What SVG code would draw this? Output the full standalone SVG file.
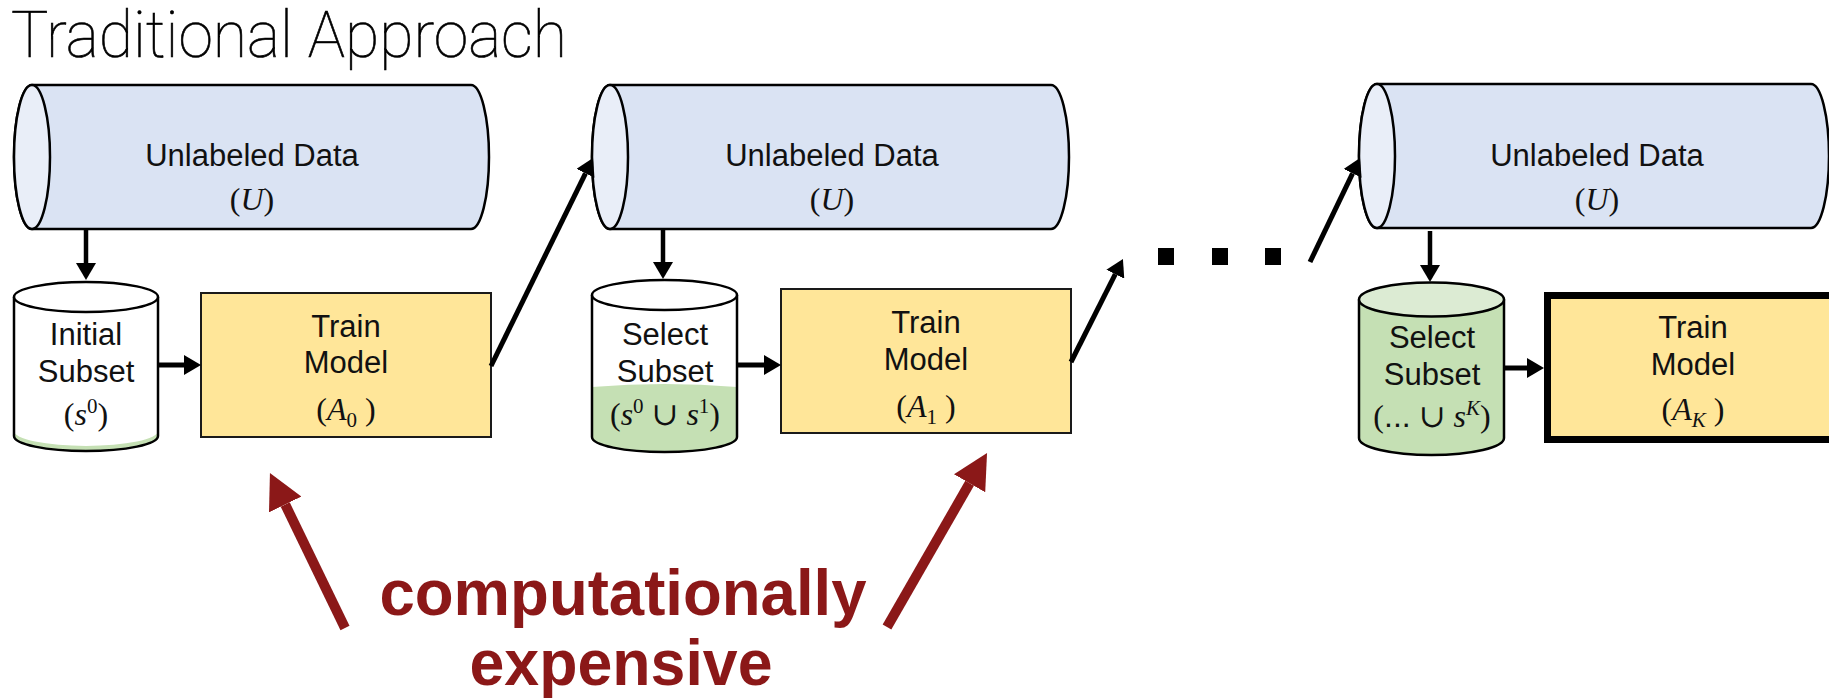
<svg xmlns="http://www.w3.org/2000/svg" width="1829" height="700" viewBox="0 0 1829 700">
  <style>
    .bg { fill: #ffffff; }
    .title { font-family: "Roboto", "Liberation Sans", sans-serif; font-weight: 100; font-size: 64px; fill: #000000; stroke: #000000; stroke-width: 0.6; }
    .lbl { font-family: "Liberation Sans", Arial, sans-serif; font-size: 31px; fill: #111111; text-anchor: middle; }
    .math { font-family: "Liberation Serif", "DejaVu Serif", serif; font-size: 32px; fill: #111111; text-anchor: middle; }
    .it { font-style: italic; }
    .drum { fill: #dae3f3; stroke: #000000; stroke-width: 2.5; }
    .drum-face { fill: #e9eef8; stroke: #000000; stroke-width: 2.5; }
    .can-body { fill: #ffffff; stroke: none; }
    .can-outline { fill: none; stroke: #000000; stroke-width: 2.5; }
    .can-top { fill: #ffffff; stroke: #000000; stroke-width: 2.5; }
    .green { fill: #c5e0b4; stroke: none; }
    .green-top { fill: #dcebd3; stroke: #000000; stroke-width: 2.5; }
    .box { fill: #ffe699; stroke: #1a1a1a; stroke-width: 2; }
    .box-bold { fill: #ffe699; stroke: #000000; stroke-width: 7; }
    .link { stroke: #000000; stroke-width: 5; fill: none; }
    .link-thin { stroke: #000000; stroke-width: 4.5; fill: none; }
    .hot { stroke: #8b1818; stroke-width: 10; fill: none; }
    .hot-text { font-family: "Liberation Sans", Arial, sans-serif; font-weight: bold; font-size: 65px; fill: #8b1818; text-anchor: middle; }
    .dot { fill: #000000; }
  </style>
  <defs>
    <marker id="head" markerUnits="userSpaceOnUse" viewBox="0 0 17 20" markerWidth="17" markerHeight="20" refX="0" refY="10" orient="auto">
      <path d="M0,0 L17,10 L0,20 Z" fill="#000000"/>
    </marker>
    <marker id="head-red" markerUnits="userSpaceOnUse" viewBox="0 0 35 36" markerWidth="35" markerHeight="36" refX="0" refY="18" orient="auto">
      <path d="M0,0 L35,18 L0,36 Z" fill="#8b1818"/>
    </marker>
  </defs>

  <rect class="bg" x="0" y="0" width="1829" height="700"/>

  <text class="title" x="11" y="57" textLength="556" lengthAdjust="spacingAndGlyphs">Traditional Approach</text>

  <!-- pool of unlabeled data, round 0 -->
  <g id="pool-0">
    <path class="drum" d="M32,85 H471 A18 72 0 0 1 471,229 H32 A18 72 0 0 1 32,85 Z"/>
    <ellipse class="drum-face" cx="32" cy="157" rx="18" ry="72"/>
    <text class="lbl" x="252" y="166">Unlabeled Data</text>
    <text class="math" x="252" y="210">(<tspan class="it">U</tspan>)</text>
  </g>

  <!-- initial subset store -->
  <g id="subset-0">
    <path class="can-body" d="M14,297 V436 A72 15 0 0 0 158,436 V297 Z"/>
    <path class="green" d="M14,431 A72 15 0 0 0 158,431 V436 A72 15 0 0 1 14,436 Z"/>
    <path class="can-outline" d="M14,297 V436 A72 15 0 0 0 158,436 V297"/>
    <ellipse class="can-top" cx="86" cy="297" rx="72" ry="15"/>
    <text class="lbl" x="86" y="345">Initial</text>
    <text class="lbl" x="86" y="382">Subset</text>
    <text class="math" x="86" y="425">(<tspan class="it">s</tspan><tspan font-size="21" dy="-12">0</tspan><tspan dy="12">)</tspan></text>
  </g>

  <!-- model training, round 0 -->
  <g id="train-0">
    <rect class="box" x="201" y="293" width="290" height="144"/>
    <text class="lbl" x="346" y="337">Train</text>
    <text class="lbl" x="346" y="373">Model</text>
    <text class="math" x="346" y="420">(<tspan class="it">A</tspan><tspan font-size="21" dy="7">0</tspan><tspan dy="-7"> )</tspan></text>
  </g>

  <!-- pool of unlabeled data, round 1 -->
  <g id="pool-1">
    <path class="drum" d="M610,85 H1051 A18 72 0 0 1 1051,229 H610 A18 72 0 0 1 610,85 Z"/>
    <ellipse class="drum-face" cx="610" cy="157" rx="18" ry="72"/>
    <text class="lbl" x="832" y="166">Unlabeled Data</text>
    <text class="math" x="832" y="210">(<tspan class="it">U</tspan>)</text>
  </g>

  <!-- selected subset, round 1 -->
  <g id="subset-1">
    <path class="can-body" d="M592,295 V437 A72.5 15 0 0 0 737,437 V295 Z"/>
    <path class="green" d="M592,387 Q664.5,381 737,387 V437 A72.5 15 0 0 1 592,437 Z"/>
    <path class="can-outline" d="M592,295 V437 A72.5 15 0 0 0 737,437 V295"/>
    <ellipse class="can-top" cx="664.5" cy="295" rx="72.5" ry="15"/>
    <text class="lbl" x="665" y="345">Select</text>
    <text class="lbl" x="665" y="382">Subset</text>
    <text class="math" x="665" y="425">(<tspan class="it">s</tspan><tspan font-size="21" dy="-12">0</tspan><tspan dy="12"> ∪ </tspan><tspan class="it">s</tspan><tspan font-size="21" dy="-12">1</tspan><tspan dy="12">)</tspan></text>
  </g>

  <!-- model training, round 1 -->
  <g id="train-1">
    <rect class="box" x="781" y="289" width="290" height="144"/>
    <text class="lbl" x="926" y="333">Train</text>
    <text class="lbl" x="926" y="370">Model</text>
    <text class="math" x="926" y="417">(<tspan class="it">A</tspan><tspan font-size="21" dy="7">1</tspan><tspan dy="-7"> )</tspan></text>
  </g>

  <!-- pool of unlabeled data, round K -->
  <g id="pool-k">
    <path class="drum" d="M1377,84 H1811 A18 72 0 0 1 1811,228 H1377 A18 72 0 0 1 1377,84 Z"/>
    <ellipse class="drum-face" cx="1377" cy="156" rx="18" ry="72"/>
    <text class="lbl" x="1597" y="166">Unlabeled Data</text>
    <text class="math" x="1597" y="210">(<tspan class="it">U</tspan>)</text>
  </g>

  <!-- selected subset, round K -->
  <g id="subset-k">
    <path class="green" d="M1359,299.5 V438 A72.5 17 0 0 0 1504,438 V299.5 Z"/>
    <path class="can-outline" d="M1359,299.5 V438 A72.5 17 0 0 0 1504,438 V299.5"/>
    <ellipse class="green-top" cx="1431.5" cy="299.5" rx="72.5" ry="17"/>
    <text class="lbl" x="1432" y="348">Select</text>
    <text class="lbl" x="1432" y="385">Subset</text>
    <text class="math" x="1432" y="427">(<tspan font-family="Liberation Sans, sans-serif">...</tspan> ∪ <tspan class="it">s</tspan><tspan class="it" font-size="21" dy="-12">K</tspan><tspan dy="12">)</tspan></text>
  </g>

  <!-- final model training -->
  <g id="train-k">
    <rect class="box-bold" x="1547.5" y="295.5" width="300" height="144"/>
    <text class="lbl" x="1693" y="338">Train</text>
    <text class="lbl" x="1693" y="375">Model</text>
    <text class="math" x="1693" y="420">(<tspan class="it">A</tspan><tspan class="it" font-size="21" dy="7">K</tspan><tspan dy="-7"> )</tspan></text>
  </g>

  <!-- elided rounds -->
  <g id="ellipsis">
    <rect class="dot" x="1158" y="248" width="16" height="17"/>
    <rect class="dot" x="1212" y="248" width="16" height="17"/>
    <rect class="dot" x="1265" y="248" width="16" height="17"/>
  </g>

  <!-- flow between steps -->
  <g id="connectors">
    <line class="link-thin" x1="86" y1="229" x2="86" y2="263" marker-end="url(#head)"/>
    <line class="link" x1="158" y1="365" x2="184" y2="365" marker-end="url(#head)"/>
    <line class="link" x1="491" y1="366" x2="585.5" y2="173.3" marker-end="url(#head)"/>
    <line class="link-thin" x1="663" y1="229" x2="663" y2="262" marker-end="url(#head)"/>
    <line class="link" x1="737" y1="365" x2="764" y2="365" marker-end="url(#head)"/>
    <line class="link" x1="1071" y1="362" x2="1115.3" y2="274.2" marker-end="url(#head)"/>
    <line class="link" x1="1310" y1="262" x2="1352.6" y2="173.3" marker-end="url(#head)"/>
    <line class="link-thin" x1="1430" y1="231" x2="1430" y2="265" marker-end="url(#head)"/>
    <line class="link" x1="1504" y1="368" x2="1527" y2="368" marker-end="url(#head)"/>
  </g>

  <!-- cost callout -->
  <g id="cost-note">
    <line class="hot" x1="345" y1="628" x2="285.2" y2="504.5" marker-end="url(#head-red)"/>
    <line class="hot" x1="887" y1="627" x2="969.6" y2="483.3" marker-end="url(#head-red)"/>
    <text class="hot-text" x="623" y="615" textLength="487" lengthAdjust="spacingAndGlyphs">computationally</text>
    <text class="hot-text" x="621" y="685" textLength="303" lengthAdjust="spacingAndGlyphs">expensive</text>
  </g>
</svg>
